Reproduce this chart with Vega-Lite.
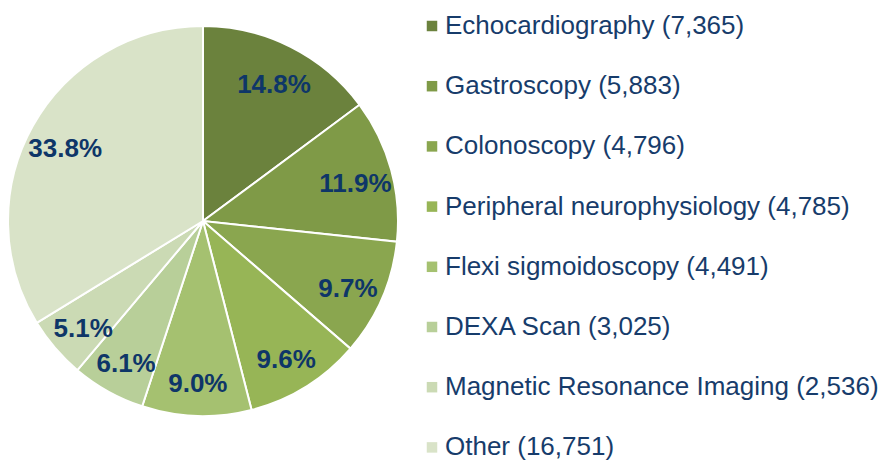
{
  "$schema": "https://vega.github.io/schema/vega-lite/v6.json",
  "width": 406,
  "height": 442,
  "padding": 0,
  "background": "white",
  "view": {"stroke": null},
  "data": {
    "values": [
      {"order": 1, "label": "Echocardiography (7,365)", "value": 7365, "pct": "14.8%"},
      {"order": 2, "label": "Gastroscopy (5,883)", "value": 5883, "pct": "11.9%"},
      {"order": 3, "label": "Colonoscopy (4,796)", "value": 4796, "pct": "9.7%"},
      {"order": 4, "label": "Peripheral neurophysiology (4,785)", "value": 4785, "pct": "9.6%"},
      {"order": 5, "label": "Flexi sigmoidoscopy (4,491)", "value": 4491, "pct": "9.0%"},
      {"order": 6, "label": "DEXA Scan (3,025)", "value": 3025, "pct": "6.1%"},
      {"order": 7, "label": "Magnetic Resonance Imaging (2,536)", "value": 2536, "pct": "5.1%"},
      {"order": 8, "label": "Other (16,751)", "value": 16751, "pct": "33.8%"}
    ]
  },
  "encoding": {
    "theta": {"field": "value", "type": "quantitative", "stack": true},
    "order": {"field": "order", "type": "quantitative"}
  },
  "layer": [
    {
      "mark": {"type": "arc", "outerRadius": 195, "stroke": "white", "strokeWidth": 2},
      "encoding": {
        "color": {
          "field": "label",
          "type": "nominal",
          "sort": {"field": "order"},
          "scale": {
            "domain": ["Echocardiography (7,365)", "Gastroscopy (5,883)", "Colonoscopy (4,796)", "Peripheral neurophysiology (4,785)", "Flexi sigmoidoscopy (4,491)", "DEXA Scan (3,025)", "Magnetic Resonance Imaging (2,536)", "Other (16,751)"],
            "range": ["#6b823d", "#7f9a47", "#8aa64f", "#97b556", "#a5c170", "#b8cf99", "#cbdab4", "#d9e3c8"]
          },
          "legend": {
            "title": null,
            "orient": "none",
            "legendX": 419,
            "legendY": 13,
            "symbolType": "square",
            "symbolSize": 110,
            "symbolStrokeWidth": 0,
            "labelFont": "Liberation Sans",
            "labelFontSize": 26,
            "labelColor": "#173c6b",
            "labelOffset": 0,
            "labelLimit": 600,
            "rowPadding": 34.2,
            "padding": 0
          }
        }
      }
    },
    {
      "mark": {"type": "text", "radius": 158, "dy": 5, "font": "Liberation Sans", "fontWeight": "bold", "fontSize": 26, "color": "#0e3668"},
      "encoding": {
        "text": {"field": "pct", "type": "nominal"}
      }
    }
  ]
}
